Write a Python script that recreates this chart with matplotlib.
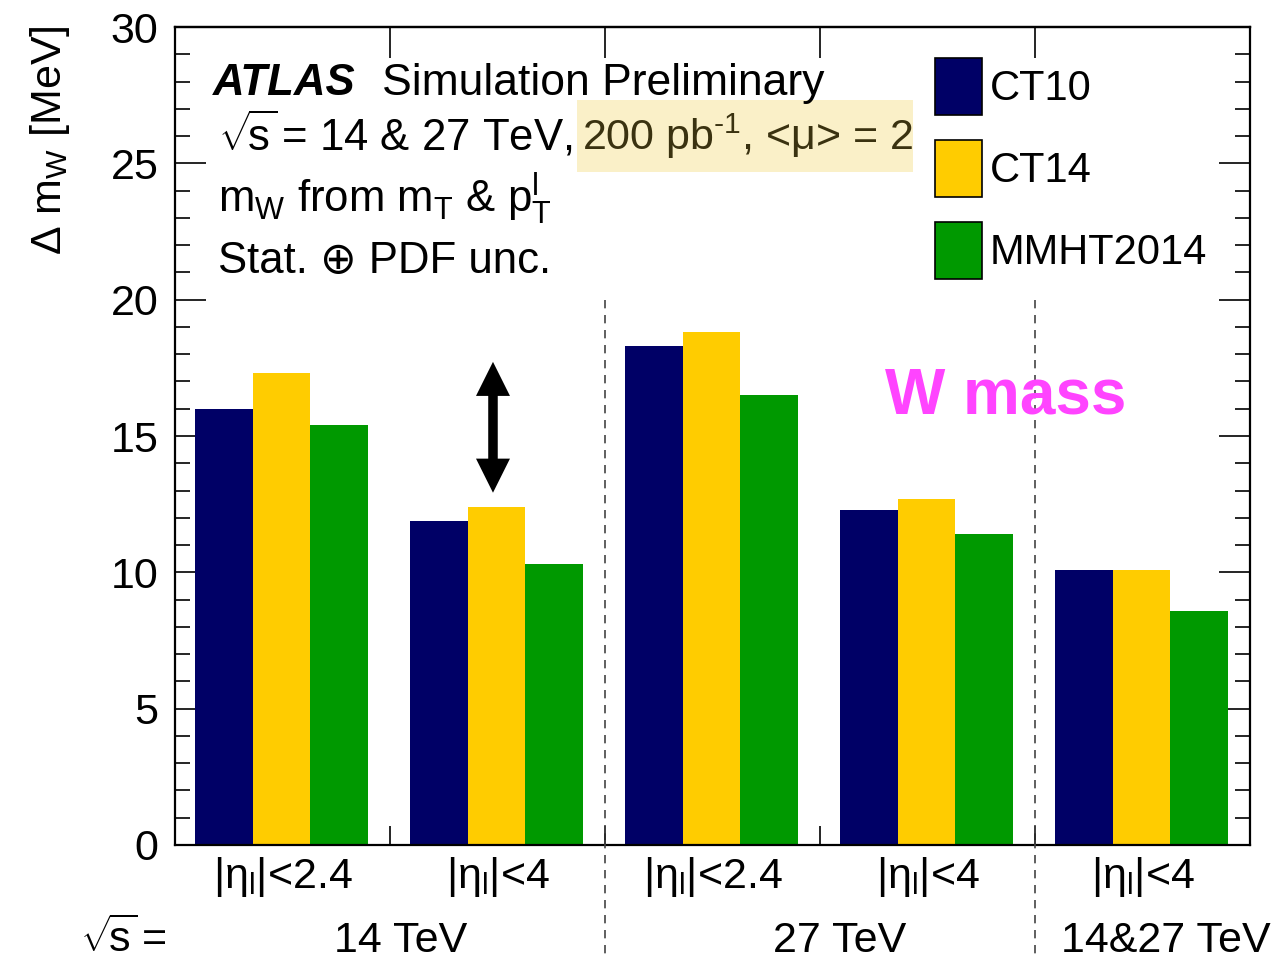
import matplotlib
matplotlib.use('Agg')
import matplotlib.pyplot as plt
from matplotlib.patches import Rectangle, Patch
import numpy as np

plt.rcParams['font.family'] = ['Liberation Sans', 'DejaVu Sans']
plt.rcParams['mathtext.fontset'] = 'custom'
plt.rcParams['mathtext.rm'] = 'Liberation Sans'
plt.rcParams['mathtext.it'] = 'Liberation Sans'
plt.rcParams['mathtext.bf'] = 'Liberation Sans:bold'
plt.rcParams['mathtext.sf'] = 'Liberation Sans'

# ---- data ----
pdf_sets = ['CT10', 'CT14', 'MMHT2014']
ct10 = [16.0, 11.9, 18.3, 12.3, 10.1]
ct14 = [17.3, 12.4, 18.8, 12.7, 10.1]
mmht2014 = [15.4, 10.3, 16.5, 11.4, 8.6]
eta_labels = [r'$|\eta_{\rm l}|$<2.4', r'$|\eta_{\rm l}|$<4', r'$|\eta_{\rm l}|$<2.4',
              r'$|\eta_{\rm l}|$<4', r'$|\eta_{\rm l}|$<4']
energy_labels = ['14 TeV', '27 TeV', '14&27 TeV']
yticks = [0, 5, 10, 15, 20, 25, 30]

colors = ['#000066', '#ffcc00', '#009900']
W, H = 1279, 959
FS = 31
TFS = 31.5

def fx(px):
    return px / W

def fy(py):
    return 1 - py / H

fig = plt.figure(figsize=(W / 100, H / 100), dpi=100)
ax = fig.add_axes([fx(175), 1 - 845 / H, 1075 / W, 818 / H])

series = [ct10, ct14, mmht2014]
ngroups = len(ct10)
bw = 0.268
off = 0.093
for j, (vals, c, name) in enumerate(zip(series, colors, pdf_sets)):
    x = np.arange(ngroups) + off + bw * (j + 0.5)
    ax.bar(x, vals, width=bw, color=c, linewidth=0, label=name, zorder=2)

ax.set_xlim(0, ngroups)
ax.set_ylim(0, 30)
ax.set_yticks(yticks)
ax.set_yticks(np.arange(0, 31, 1), minor=True)
ax.set_xticks([1, 2, 3, 4])
ax.set_xticklabels([])
ax.tick_params(axis='y', which='major', direction='in', length=22, width=1.2,
               left=True, right=True, labelsize=FS, pad=12)
ax.tick_params(axis='y', which='minor', direction='in', length=11, width=1.2,
               left=True, right=True)
ax.tick_params(axis='x', which='major', direction='in', length=14, width=1.2,
               top=False, bottom=True)
sec = ax.secondary_xaxis('top')
sec.set_xticks([1, 2, 3, 4])
sec.set_xticklabels([])
sec.tick_params(axis='x', direction='in', length=22, width=1.2)
sec.spines['top'].set_linewidth(1.6)
for s in ax.spines.values():
    s.set_linewidth(1.6)

# dashed separators
for xb in [2, 4]:
    ax.plot([xb, xb], [20, -4.2], ls=(0, (5, 4)), color='#444444', lw=1.2,
            clip_on=False, zorder=3)

# double arrow (two overlapping arrows)
ax_x = 1.479
y_lo, y_hi = 12.92, 17.72
hl = 1.25
ax.arrow(ax_x, y_lo + hl * 0.9, 0, y_hi - y_lo - hl * 0.9, width=0.042,
         head_width=0.158, head_length=hl, length_includes_head=True,
         color='black', linewidth=0, zorder=4)
ax.arrow(ax_x, y_hi - hl * 0.9, 0, y_lo - y_hi + hl * 0.9, width=0.042,
         head_width=0.158, head_length=hl, length_includes_head=True,
         color='black', linewidth=0, zorder=4)

ax.text(3.865, 16.45, 'W mass', color='#ff44ff', fontsize=46, fontweight='bold',
        ha='center', va='center')

# x labels
xt = ax.get_xaxis_transform()
for i, lab in enumerate(eta_labels):
    ax.text(i + 0.5, -43 / 818, lab, transform=xt, ha='center', va='baseline',
            fontsize=FS)
for xc, lab in zip([1.05, 3.09, 4.61], energy_labels):
    ax.text(xc, -107 / 818, lab, transform=xt, ha='center', va='baseline',
            fontsize=FS)
ax.text(-0.242, -107 / 818, r'$\sqrt{\!s}\,$=', transform=xt, ha='center',
        va='baseline', fontsize=FS)

# y label
fig.text(fx(50), fy(25), r'$\Delta$ m$_{\rm W}$ [MeV]', rotation=90,
         ha='center', va='top', fontsize=FS)

# text block
fig.text(fx(213), fy(95), 'ATLAS', fontsize=TFS, fontweight='bold',
         fontstyle='italic', va='baseline')
fig.text(fx(382), fy(95), 'Simulation Preliminary', fontsize=TFS + 0.5,
         va='baseline')
fig.text(fx(218), fy(150), r'$\sqrt{\!s}\,$= 14 & 27 TeV,', fontsize=TFS,
         va='baseline')
fig.patches.append(Rectangle((fx(577), fy(172)), (913 - 577) / W, 72 / H,
                             transform=fig.transFigure, facecolor='#faf0c8',
                             edgecolor='none', zorder=1))
fig.text(fx(582), fy(150), '200 pb$^{\u2010 1}$, <μ> = 2', fontsize=31,
         va='baseline', color='#3a3210', zorder=4)
fig.text(fx(218), fy(212), r'm$_{\rm W}$ from m$_{\rm T}$ & p$_{\rm T}^{\rm l}$',
         fontsize=TFS, va='baseline')
fig.text(fx(218), fy(273), 'Stat. ⊕ PDF unc.', fontsize=TFS, va='baseline')

# legend
handles = [Patch(facecolor=c, edgecolor='black', linewidth=1.2) for c in colors]
fig.legend(handles, pdf_sets, loc='upper left',
           bbox_to_anchor=(fx(935), fy(58)), frameon=False, fontsize=30,
           handlelength=1.13, handleheight=1.73, labelspacing=0.6,
           handletextpad=0.19, borderpad=0, borderaxespad=0)

fig.savefig('out.png', dpi=100)
